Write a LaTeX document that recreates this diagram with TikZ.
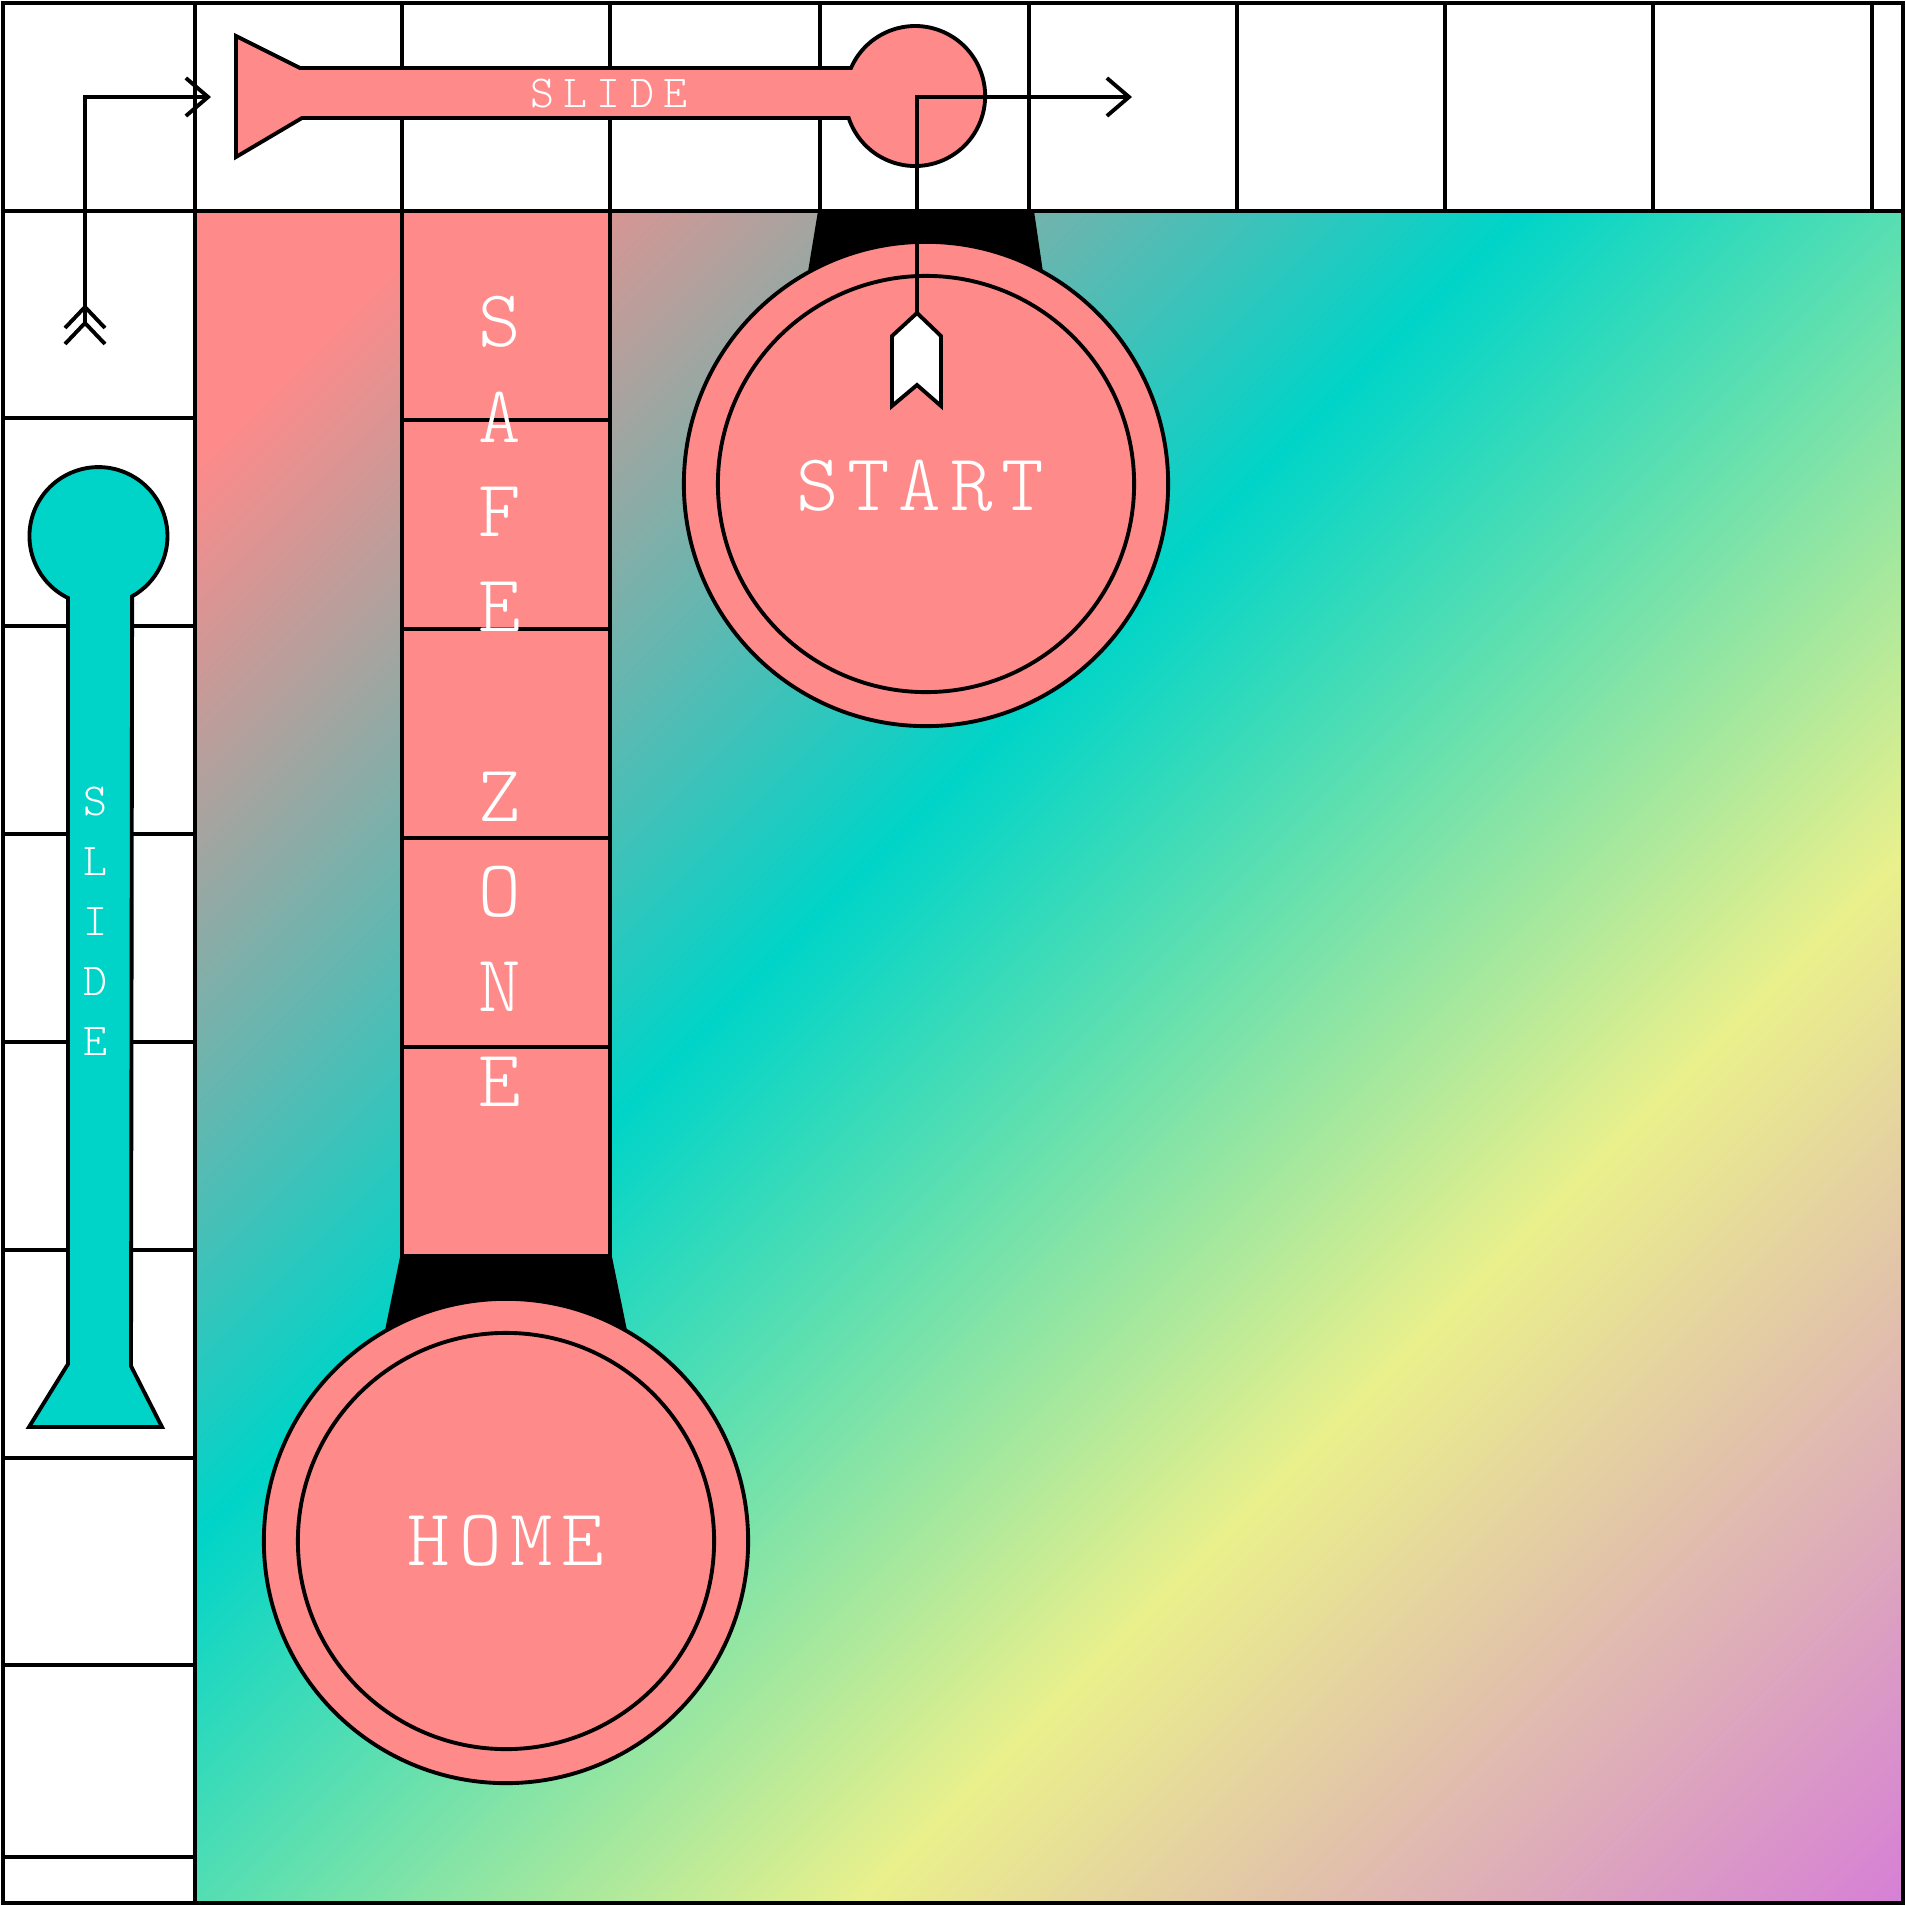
\documentclass[tikz,border=0pt]{standalone}
\usepackage{fontspec}
\setmonofont{Latin Modern Mono Light}
\usetikzlibrary{arrows.meta}
\definecolor{salmon}{HTML}{FF8A8A}
\definecolor{aqua}{HTML}{00D4C8}
\definecolor{lemon}{HTML}{EAF08C}
\definecolor{orchid}{HTML}{D680D6}
\pgfdeclarehorizontalshading{boardfade}{100bp}{color(0bp)=(salmon);color(19.6bp)=(salmon);color(42.2bp)=(aqua);color(63.7bp)=(lemon);color(85.4bp)=(orchid);color(100bp)=(orchid)}
\tikzset{fig/.style={line join=miter,line width=1.1pt,x=0.01cm,y=-0.01cm,
    >={Straight Barb[length=6.3pt,width=10.8pt]}},
  disc/.style={circle,draw,fill=salmon,inner sep=0pt},
  bigtxt/.style={text=white,font=\ttfamily\fontsize{23}{23}\selectfont\addfontfeature{LetterSpace=11}},
  smalltxt/.style={text=white,font=\ttfamily\fontsize{13}{13}\selectfont\addfontfeature{LetterSpace=20}}}

\begin{document}
\begin{tikzpicture}[fig]
  \useasboundingbox(0,0)rectangle(1906,1906);
  \fill[white](0,0)rectangle(1906,1906);
  \shade[shading=boardfade,shading angle=-45](195,211)rectangle(1903,1903);
  \draw(3,3)rectangle(1903,1903);
  \draw(3,211)--(1903,211);
  \draw(195,3)--(195,1903);
  \foreach \x in {402,610,820,1029,1237,1445,1653,1872}
    \draw(\x,3)--(\x,211);
  \foreach \y in {418,626,834,1042,1250,1458,1665,1857}
    \draw(3,\y)--(195,\y);
  \foreach \y in {211,420,629,838,1047}
    \draw[fill=salmon](402,\y)rectangle(610,\y+209);
  \fill(818,211)--(1034,211)--(1050,320)--(800,320)--cycle;
  \fill(400,1257)--(612,1257)--(631,1350)--(381,1350)--cycle;
  \node[disc,minimum size=4.84cm](startrim)at(926,484){};
  \node[disc,minimum size=4.16cm](startface)at(926,484){};
  \node[bigtxt](start)at(920,486){START};
  \node[disc,minimum size=4.84cm](homerim)at(506,1541){};
  \node[disc,minimum size=4.16cm,bigtxt](home)at(506,1541){HOME};
  \draw[fill=salmon](236,36)--(300,68)--(851,68)
    arc[start angle=203.6,end angle=521.7,radius=70]--(302,118)--(236,157)--cycle;
  \draw[fill=aqua](68,1364)--(68,598)
    arc[start angle=116.2,end angle=420.8,radius=69]--(131,1366)--(162,1427)--(29,1427)--cycle;
  \node[smalltxt](topslide)at(609,94){SLIDE};
  \foreach \c [count=\i] in {S,L,I,D,E}
    \node[smalltxt](ls\i)at(95,742+60*\i){\c};
  \foreach \c [count=\i] in {S,A,F,E,{},Z,O,N,E}
    \node[bigtxt](sz\i)at(500,227+95*\i){\c};
  \coordinate(feather)at(85,323);
  \coordinate(bendA)at(85,97);
  \coordinate(tipA)at(211,97);
  \draw[->](feather)--(bendA)--(tipA);
  \foreach \y in {307,323}
    \draw(65,\y+21)--(85,\y)--(105,\y+21);
  \draw[fill=white](917,313)--(941,336)--(941,406)--(917,385)--(892,406)--(892,336)--cycle;
  \coordinate(pin)at(917,313);
  \coordinate(bendB)at(917,97);
  \coordinate(tipB)at(1132,97);
  \draw[->](pin)--(bendB)--(tipB);
\end{tikzpicture}
\end{document}
